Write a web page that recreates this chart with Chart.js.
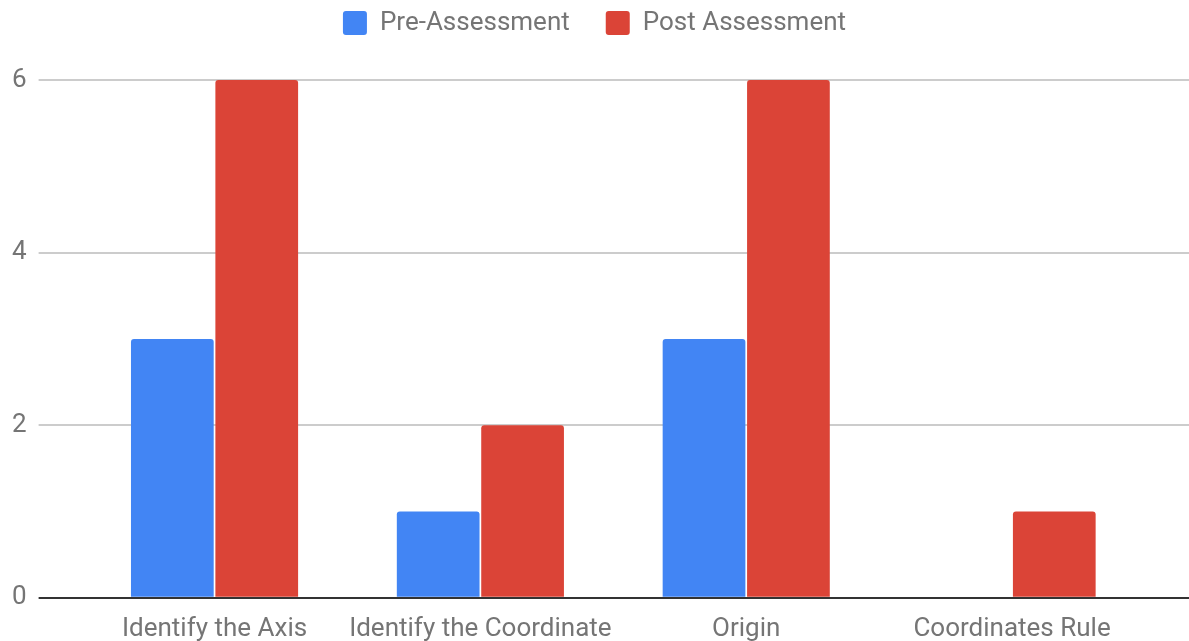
<!DOCTYPE html>
<html>
<head>
<meta charset="utf-8">
<script src="https://cdn.jsdelivr.net/npm/chart.js@4/dist/chart.umd.min.js"></script>
<style>
  html, body { margin: 0; padding: 0; background: #fff; }
  #wrap { width: 1189px; height: 641px; }
</style>
</head>
<body>
<div id="wrap"><canvas id="barChart"></canvas></div>
<script>
// Data
const categories = ['Identify the Axis', 'Identify the Coordinate', 'Origin', 'Coordinates Rule'];
const preAssessment = [3, 1, 3, 0];
const postAssessment = [6, 2, 6, 1];
const yTicks = [0, 2, 4, 6];

const textGray = '#757575';

// grid colour: dark baseline, light grey for the rest
function gridColor(ctx) {
    return ctx.tick && ctx.tick.value === 0 ? '#333333' : '#cccccc';
}

// push the plot down below the legend
const legendSpace = {
    id: 'legendSpace',
    beforeInit(chart) {
        const fit = chart.legend.fit;
        chart.legend.fit = function () {
            fit.bind(chart.legend)();
            this.height += 34;
        };
    }
};

const barCtx = document.getElementById('barChart').getContext('2d');
const barChart = new Chart(barCtx, {
    type: 'bar',
    data: {
        labels: categories,
        datasets: [{
            label: 'Pre-Assessment',
            data: preAssessment,
            backgroundColor: '#4285F4',
            borderRadius: { topLeft: 3, topRight: 3 },
            borderSkipped: 'bottom'
        }, {
            label: 'Post Assessment',
            data: postAssessment,
            backgroundColor: '#DB4437',
            borderRadius: { topLeft: 3, topRight: 3 },
            borderSkipped: 'bottom'
        }]
    },
    options: {
        responsive: true,
        maintainAspectRatio: false,
        animation: false,
        layout: { padding: { left: 0, right: 0, top: -26, bottom: -12 } },
        datasets: {
            bar: { categoryPercentage: 0.635, barPercentage: 0.98 }
        },
        plugins: {
            legend: {
                position: 'top',
                labels: {
                    font: { family: 'Roboto', size: 26 },
                    color: textGray,
                    boxWidth: 24,
                    boxHeight: 24,
                    padding: 36,
                    useBorderRadius: true,
                    borderRadius: 3
                }
            },
            tooltip: { enabled: false }
        },
        scales: {
            x: {
                grid: { display: false },
                border: { display: false },
                ticks: {
                    font: { family: 'Roboto', size: 26 },
                    color: textGray,
                    padding: 8,
                    maxRotation: 0
                }
            },
            y: {
                min: 0,
                max: 6,
                afterBuildTicks(scale) {
                    scale.ticks = yTicks.map(v => ({ value: v }));
                },
                grid: { color: gridColor, lineWidth: 2, tickLength: 43 },
                border: { display: false },
                ticks: {
                    font: { family: 'Roboto', size: 26 },
                    color: textGray,
                    padding: 12
                }
            },
            y2: {
                position: 'right',
                min: 0,
                max: 6,
                afterBuildTicks(scale) {
                    scale.ticks = yTicks.map(v => ({ value: v }));
                },
                grid: { color: gridColor, lineWidth: 2, tickLength: 44, drawOnChartArea: false },
                border: { display: false },
                ticks: { display: false }
            }
        }
    },
    plugins: [legendSpace]
});
</script>
</body>
</html>
